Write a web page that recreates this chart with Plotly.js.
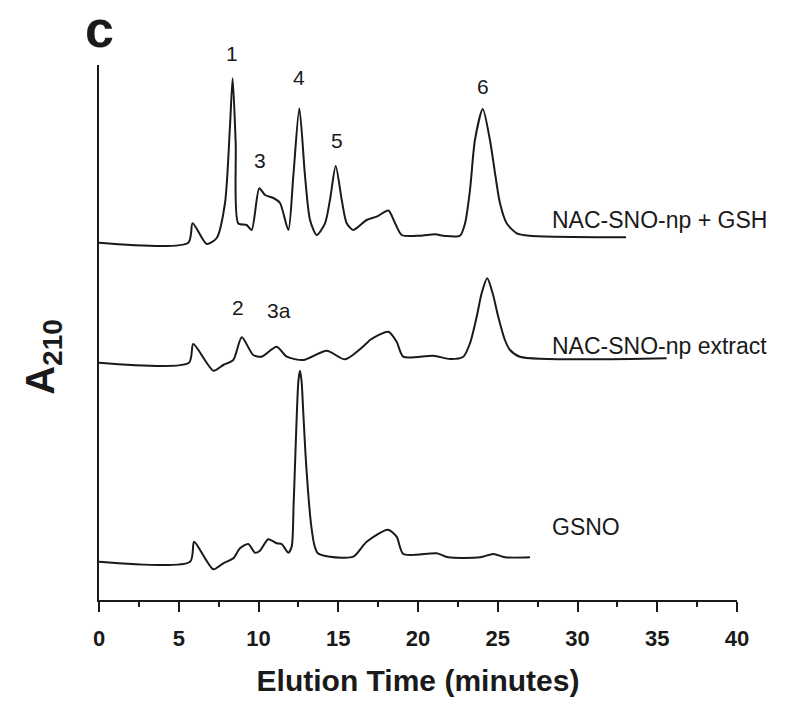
<!DOCTYPE html>
<html>
<head>
<meta charset="utf-8">
<script src="https://cdn.plot.ly/plotly-3.0.1.min.js"></script>
<style>html,body{margin:0;padding:0;background:#fff;}#chart{width:800px;height:711px;}</style>
</head>
<body>
<div id="chart"></div>
<script>
// Elution time (minutes) and A210 (arbitrary units, traces stacked with offsets as in the figure)
const timeGSH = [0, 5.60, 5.87, 6.75, 7.38, 7.90, 8.21, 8.38, 8.57, 8.73, 9.26, 9.57, 10.05, 10.41, 10.93, 11.35, 11.87, 12.18, 12.56, 12.92, 13.23, 13.65, 14.17, 14.48, 14.84, 15.22, 15.53, 15.94, 16.78, 17.41, 18.14, 18.56, 18.98, 20.13, 21.07, 21.69, 22.63, 22.95, 23.26, 23.57, 24.06, 24.51, 24.83, 25.14, 25.56, 26.19, 27.02, 33.04];
const absGSH  = [357.3, 357.3, 376.7, 356, 362, 397, 473.3, 521.7, 456.7, 376.7, 375, 370, 411.7, 405, 402, 397, 370, 423.3, 491.7, 423.3, 380, 365, 376.7, 400, 434, 400, 376.7, 370, 380, 383.3, 389.5, 377, 365, 364.3, 365.7, 364, 364.3, 376.7, 410, 460, 491, 460, 426.7, 396.7, 376.7, 366.7, 364.3, 362.7];

const timeExtract = [0, 5.64, 5.91, 7.17, 7.79, 8.42, 8.95, 9.67, 10.20, 11.14, 11.77, 12.81, 14.28, 15.42, 16.78, 16.99, 18.14, 18.66, 19.08, 20.96, 22.01, 22.84, 23.26, 23.68, 23.99, 24.34, 24.68, 25.03, 25.45, 25.77, 26.39, 35.59];
const absExtract  = [237.3, 237.3, 256, 229.3, 235, 240, 262.7, 245, 243.3, 253.3, 243.3, 240, 249.3, 240.7, 256.7, 260, 268.3, 258.3, 243.3, 244.3, 241, 243.3, 256.7, 283.3, 306.7, 321.7, 306.7, 283.3, 260, 250, 243.3, 241.7];

const timeGSNO = [0, 5.71, 5.96, 6.65, 7.17, 7.79, 8.42, 8.84, 9.36, 9.78, 10.09, 10.61, 11.14, 11.45, 11.87, 12.08, 12.20, 12.30, 12.40, 12.50, 12.60, 12.70, 12.80, 12.95, 13.10, 13.30, 13.50, 13.70, 14.48, 15.94, 16.78, 18.12, 18.66, 19.08, 21.17, 21.90, 23.89, 24.72, 25.45, 27.02];
const absGSNO  = [38.3, 38.3, 58.3, 41.7, 30.7, 36.7, 41.7, 51.7, 56, 47.3, 49.3, 60.7, 56.7, 56, 47.3, 53.3, 95, 140, 185, 219, 229.3, 219, 190, 145, 110, 75, 55, 47, 43.3, 43.3, 58.3, 70.3, 63.3, 46, 46.7, 42.7, 42.7, 46, 42.7, 42.7];

const traceNames = ["NAC-SNO-np + GSH", "NAC-SNO-np extract", "GSNO"];
const traceLabelX = [28.28, 28.28, 28.28];
const traceLabelY = [380, 254, 73];

const peakLabels = ["1", "3", "4", "5", "6", "2", "3a"];
const peakLabelX = [8.32, 10.09, 12.52, 14.9, 24.09, 8.73, 11.3];
const peakLabelY = [546, 440, 523, 460, 514, 293, 290];

const xTickVals = [0, 5, 10, 15, 20, 25, 30, 35, 40];

const FONT = "Liberation Sans, Arial, Helvetica, sans-serif";
const INK = "#1a1a1a";
const Y_TOP = 535;

const lineStyle = {color: INK, width: 2, shape: "spline", smoothing: 0.7};
const data = [
  {x: timeGSH, y: absGSH, name: traceNames[0]},
  {x: timeExtract, y: absExtract, name: traceNames[1]},
  {x: timeGSNO, y: absGSNO, name: traceNames[2]}
].map(t => Object.assign(t, {type: "scatter", mode: "lines", line: lineStyle, hoverinfo: "skip", cliponaxis: false}));

const annotations = [];
traceNames.forEach((n, i) => annotations.push({
  x: traceLabelX[i], y: traceLabelY[i], xref: "x", yref: "y", text: n,
  showarrow: false, xanchor: "left", yanchor: "middle",
  font: {family: FONT, size: 23, color: INK}
}));
peakLabels.forEach((n, i) => annotations.push({
  x: peakLabelX[i], y: peakLabelY[i] / Y_TOP, xref: "x", yref: "paper", text: n,
  showarrow: false, xanchor: "center", yanchor: "middle",
  font: {family: FONT, size: 21, color: INK}
}));
annotations.push({
  x: 0, y: 1.067, xref: "paper", yref: "paper", text: "c", showarrow: false,
  xanchor: "center", yanchor: "middle",
  font: {family: FONT, size: 52, color: INK, weight: "bold"}
});
annotations.push({
  x: -0.089, y: 0.455, xref: "paper", yref: "paper", text: "A<sub>210</sub>", showarrow: false,
  textangle: -90, xanchor: "center", yanchor: "middle",
  font: {family: FONT, size: 40, color: INK, weight: "bold"}
});

const layout = {
  width: 800, height: 711,
  margin: {l: 99, r: 63, t: 65, b: 111},
  paper_bgcolor: "#fff", plot_bgcolor: "#fff",
  showlegend: false,
  xaxis: {
    range: [0, 40], tickvals: xTickVals, ticktext: xTickVals.map(String),
    ticks: "outside", ticklen: 10, tickwidth: 2, tickcolor: INK,
    ticklabelstandoff: 8,
    minor: {dtick: 2.5, tick0: 0, ticks: "outside", ticklen: 5, tickwidth: 2, tickcolor: INK, showgrid: false},
    showline: true, linewidth: 2, linecolor: INK,
    showgrid: false, zeroline: false, fixedrange: true,
    tickfont: {family: FONT, size: 22, color: INK, weight: "bold"},
    title: {text: "Elution Time (minutes)", standoff: 20, font: {family: FONT, size: 30, color: INK, weight: "bold"}},
    automargin: false
  },
  yaxis: {
    range: [0, Y_TOP], showline: true, linewidth: 2, linecolor: INK,
    ticks: "", showticklabels: false, showgrid: false, zeroline: false, fixedrange: true,
    automargin: false
  },
  annotations: annotations
};

Plotly.newPlot("chart", data, layout, {displayModeBar: false, staticPlot: true});
</script>
</body>
</html>
